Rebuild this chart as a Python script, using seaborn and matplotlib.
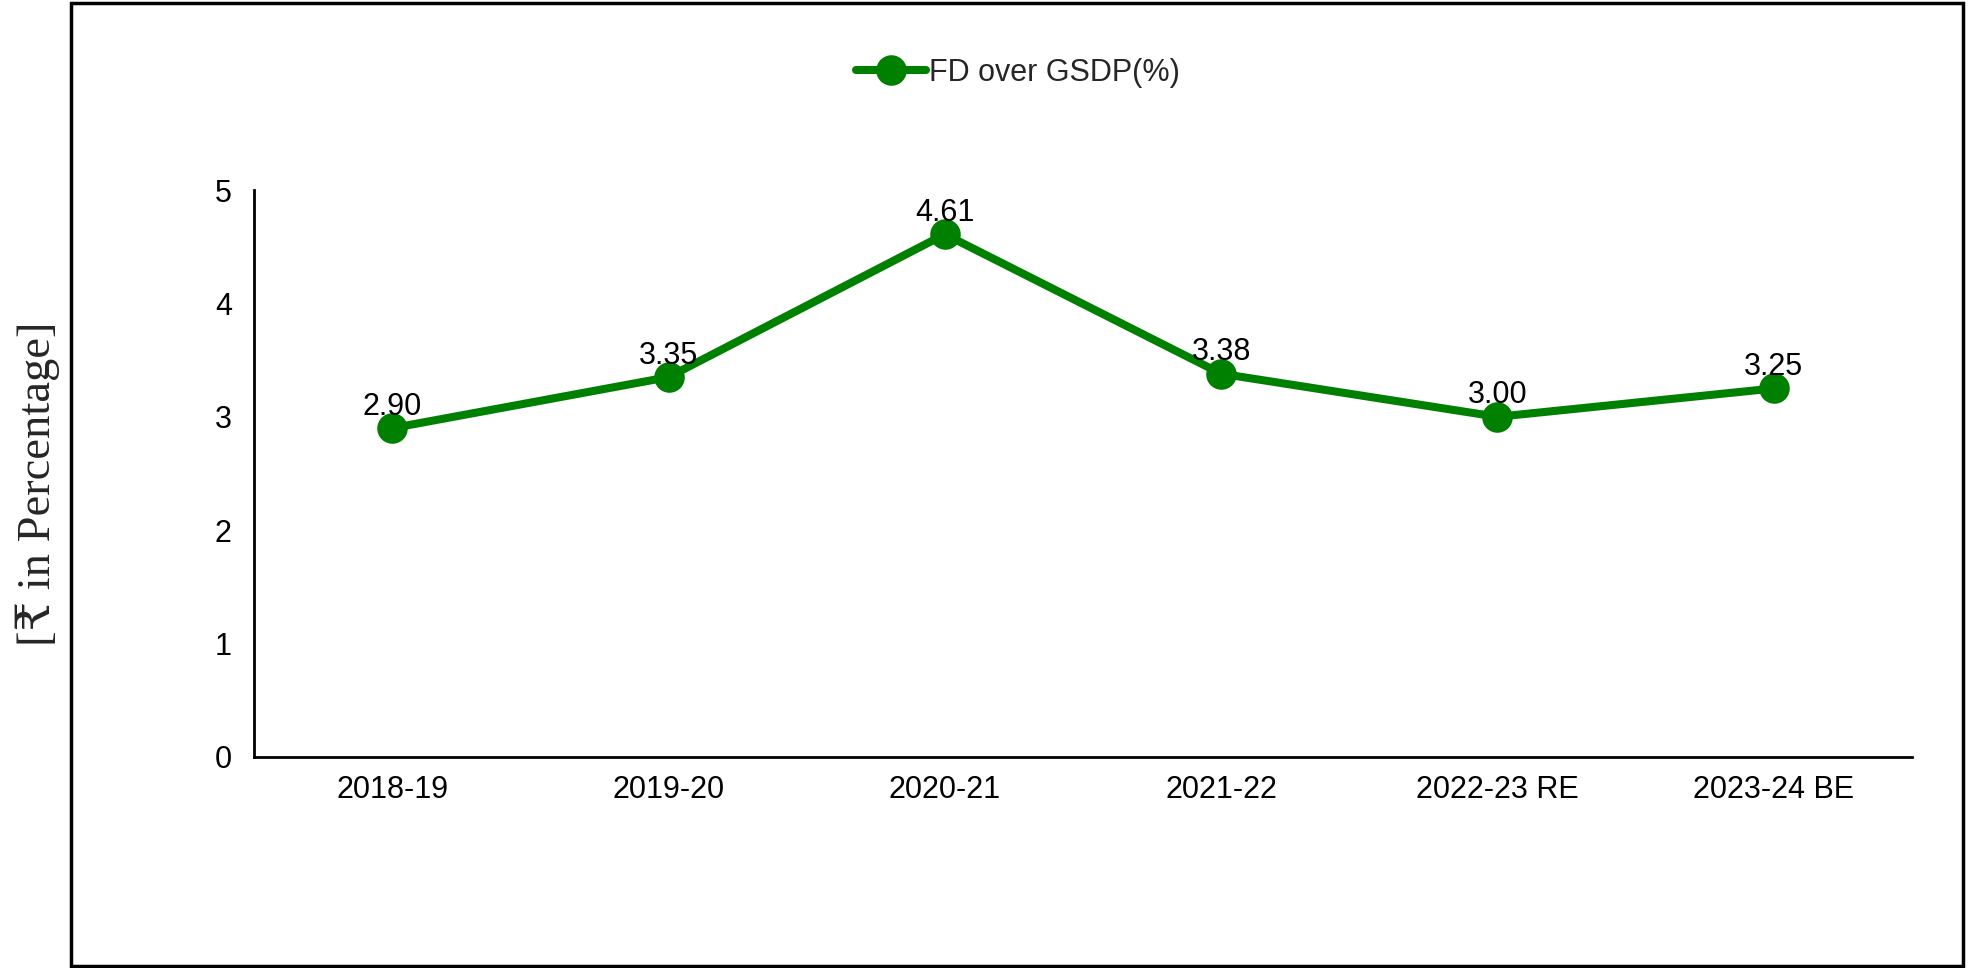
import matplotlib
matplotlib.use('Agg')
import matplotlib.pyplot as plt
import matplotlib.patches as mpatches
import seaborn as sns
import pandas as pd

# data
years = ['2018-19', '2019-20', '2020-21', '2021-22', '2022-23 RE', '2023-24 BE']
fd_over_gsdp = [2.90, 3.35, 4.61, 3.38, 3.00, 3.25]
series_name = 'FD over GSDP(%)'
y_label = '[\u20b9 in Percentage]'

df = pd.DataFrame({'year': years, 'value': fd_over_gsdp})

sns.set_style('white')
plt.rcParams['font.family'] = ['Liberation Sans', 'DejaVu Sans']

fig = plt.figure(figsize=(19.77, 9.68), dpi=100)
ax = fig.add_axes([0.1285, 0.218, 0.8386, 0.5857])

green = '#008000'
sns.lineplot(data=df, x='year', y='value', ax=ax, color=green, linewidth=5.8,
             marker='o', markersize=22, markeredgewidth=0, sort=False,
             label=series_name)

# value labels, sitting just over the markers
for i, v in enumerate(fd_over_gsdp):
    ax.annotate(f'{v:.2f}', (i, v), xytext=(0, 15.5), textcoords='offset points',
                ha='center', va='center', fontsize=22, color='black')

ax.set_ylim(0, 5)
ax.set_xlim(-0.5, len(years) - 0.5)
ax.set_yticks([0, 1, 2, 3, 4, 5])
ax.tick_params(axis='both', labelsize=22, length=0, colors='black')
ax.tick_params(axis='y', pad=16)
ax.tick_params(axis='x', pad=13)
ax.set_xlabel('')
ax.set_ylabel('')
for s in ['top', 'right']:
    ax.spines[s].set_visible(False)
for s in ['left', 'bottom']:
    ax.spines[s].set_color('black')
    ax.spines[s].set_linewidth(2)

# y label in serif, placed near left frame
fig.text(0.019, 0.50, y_label, rotation=90, ha='center', va='center',
         fontsize=33.5, family=['Liberation Serif', 'DejaVu Serif', 'DejaVu Sans'])

# legend on top
ax.get_legend().remove()
handles, labels = ax.get_legend_handles_labels()
fig.legend(handles, labels, loc='center', bbox_to_anchor=(0.515, 0.925),
           frameon=False, fontsize=22, handlelength=2.3, handletextpad=0.1,
           markerscale=1.0)

# outer chart frame
fig.patches.append(mpatches.Rectangle((0.036, 0.002), 0.957, 0.995,
                                      transform=fig.transFigure, fill=False,
                                      edgecolor='black', linewidth=2.5))

fig.savefig('out.png', dpi=100)
